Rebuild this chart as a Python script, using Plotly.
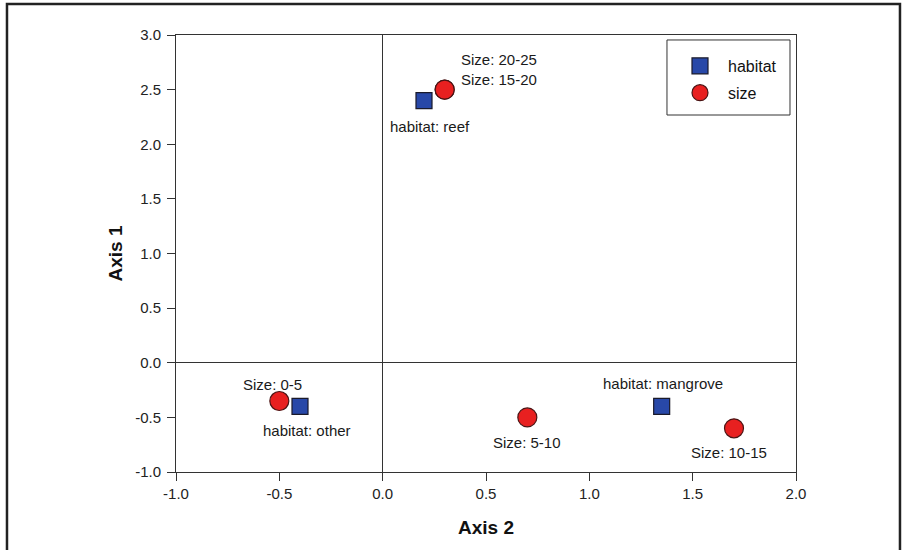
import plotly.graph_objects as go

# Ordination scores
habitat_labels = ["habitat: reef", "habitat: other", "habitat: mangrove"]
habitat_axis2 = [0.2, -0.4, 1.35]
habitat_axis1 = [2.4, -0.4, -0.4]

size_labels = ["Size: 20-25", "Size: 15-20", "Size: 0-5", "Size: 5-10", "Size: 10-15"]
size_axis2 = [0.3, 0.3, -0.5, 0.7, 1.7]
size_axis1 = [2.5, 2.5, -0.35, -0.5, -0.6]

x_ticks = [-1.0, -0.5, 0.0, 0.5, 1.0, 1.5, 2.0]
y_ticks = [-1.0, -0.5, 0.0, 0.5, 1.0, 1.5, 2.0, 2.5, 3.0]

FONT = "Liberation Sans, Arial, sans-serif"

fig = go.Figure()
fig.add_trace(go.Scatter(
    x=habitat_axis2, y=habitat_axis1, mode="markers", name="habitat",
    legendgroup="h",
    marker=dict(symbol="square", size=16, color="#2848a8",
                line=dict(color="#1a1a2a", width=1.2)),
))
fig.add_trace(go.Scatter(
    x=size_axis2, y=size_axis1, mode="markers", name="size",
    legendgroup="s",
    marker=dict(symbol="circle", size=19, color="#e82020",
                line=dict(color="#4a1414", width=1.2)),
))

# label offsets in pixels (dx, dy) relative to each point
habitat_offsets = [(6, -26), (7, -24), (1, 23)]
size_offsets = [(54, 30), (54, 10), (-7, 16), (0, -25), (-5, -24)]

for lab, x, y, (dx, dy) in zip(habitat_labels, habitat_axis2, habitat_axis1, habitat_offsets):
    fig.add_annotation(x=x, y=y, text=lab, showarrow=False, xshift=dx, yshift=dy,
                       font=dict(family=FONT, size=15, color="#1a1a1a"))
for lab, x, y, (dx, dy) in zip(size_labels, size_axis2, size_axis1, size_offsets):
    fig.add_annotation(x=x, y=y, text=lab, showarrow=False, xshift=dx, yshift=dy,
                       font=dict(family=FONT, size=15, color="#1a1a1a"))

axis_common = dict(
    showgrid=False, showline=True, mirror=True, linecolor="#333333", linewidth=1,
    ticks="outside", ticklen=8, tickcolor="#333333", tickwidth=1,
    zeroline=True, zerolinecolor="#333333", zerolinewidth=1,
    tickfont=dict(family=FONT, size=15, color="#222222"),
)

fig.update_xaxes(range=[-1, 2], tickvals=x_ticks,
                 ticktext=[f"{v:.1f}" for v in x_ticks], **axis_common,
                 title=dict(text="<b>Axis 2</b>", standoff=19,
                            font=dict(family=FONT, size=19, color="#111111")))
fig.update_yaxes(range=[-1, 3], tickvals=y_ticks,
                 ticktext=[f"{v:.1f}" for v in y_ticks], **axis_common,
                 ticklabelstandoff=3,
                 title=dict(text="<b>Axis 1</b>", standoff=7,
                            font=dict(family=FONT, size=19, color="#111111")))

# outer frame around the figure
fig.add_shape(type="rect", xref="paper", yref="paper",
              x0=-0.2726, x1=1.1677, y0=-0.25, y1=1.0709,
              line=dict(color="#222222", width=2.5), layer="above")
# legend frame
fig.add_shape(type="rect", xref="paper", yref="paper",
              x0=0.7919, x1=0.9903, y0=0.8169, y1=0.9886,
              line=dict(color="#333333", width=1), layer="below")

fig.update_layout(
    width=906, height=550,
    margin=dict(l=176, r=110, t=35, b=78),
    paper_bgcolor="white", plot_bgcolor="white",
    showlegend=True,
    legend=dict(x=0.8, y=0.968, xanchor="left", yanchor="top",
                borderwidth=0, bgcolor="rgba(0,0,0,0)",
                font=dict(family=FONT, size=16, color="#111111"),
                tracegroupgap=3, itemwidth=46),
)

fig.write_html("out.html")
